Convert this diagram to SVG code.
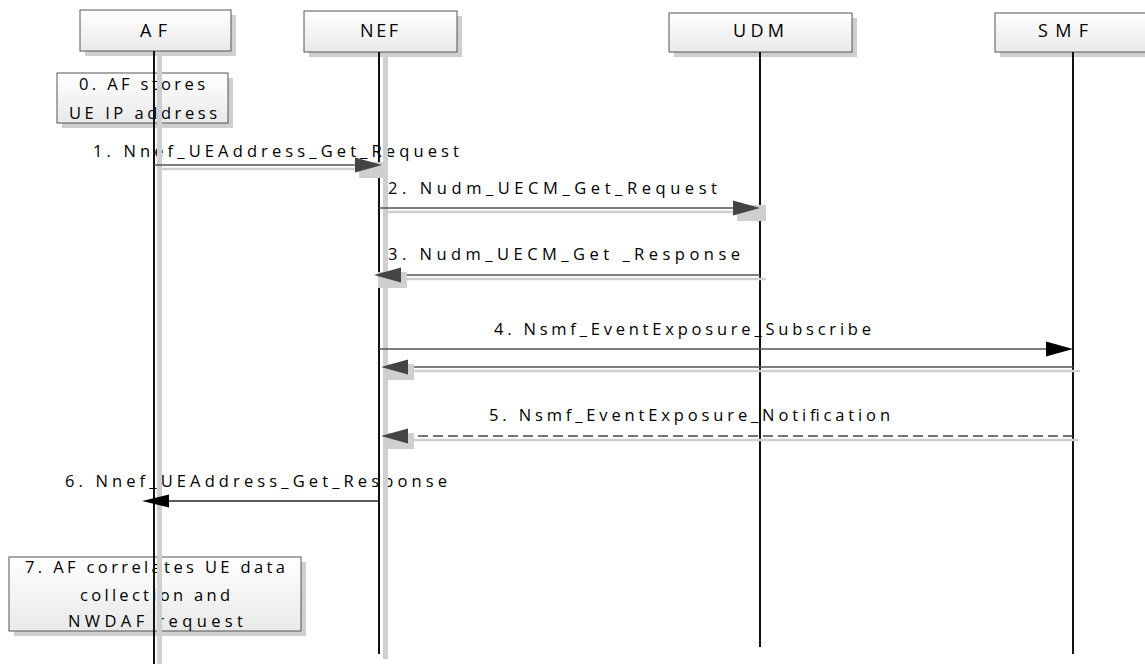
<svg xmlns="http://www.w3.org/2000/svg" xmlns:xlink="http://www.w3.org/1999/xlink" width="1145" height="664" viewBox="0 0 1145 664">
<style>
  text { font-family: "Open Sans", "Liberation Sans", Arial, sans-serif; font-size: 16.5px; fill: #000; }
  .title { font-size: 18px; }
  .box { fill: url(#boxGrad); stroke: #555; stroke-width: 1; }
  .shadow { fill: #cfcfcf; }
  .life { stroke: #111; stroke-width: 2; }
  .lifeShadow { stroke: #cfcfcf; stroke-width: 5; }
  .msg { stroke: #555; stroke-width: 1.5; fill: none; }
  .msgShadow { stroke: #cfcfcf; stroke-width: 2.5; fill: none; }
  .msgBlack { stroke: #222; stroke-width: 1.5; fill: none; }
  .dash { stroke-dasharray: 10 5; stroke: #444; }
  .head { fill: #444; }
  .headBlack { fill: #000; }
  .headShadow { fill: #cfcfcf; }
</style>
<defs>
  <linearGradient id="boxGrad" x1="0" y1="0" x2="0" y2="1">
    <stop offset="0" stop-color="#ffffff"/>
    <stop offset="1" stop-color="#e9e9e9"/>
  </linearGradient>
  <path id="headR" d="M0,0 L-27,-7.5 L-27,7.5 Z"/>
  <path id="headL" d="M0,0 L27,-7.5 L27,7.5 Z"/>
  <rect id="hsR" x="-23" y="-3" width="29" height="16"/>
  <rect id="hsL" x="4" y="-3" width="29" height="16"/>
</defs>

<!-- step boxes -->
<g id="step0">
  <rect class="shadow" x="62" y="78" width="171" height="50"/>
  <rect class="box" x="57" y="73" width="171" height="50"/>
  <text x="79" y="90" textLength="126" lengthAdjust="spacing">0. AF stores</text>
  <text x="69" y="119" textLength="148" lengthAdjust="spacing">UE IP address</text>
</g>
<g id="step7">
  <rect class="shadow" x="14" y="562" width="292" height="74"/>
  <rect class="box" x="9" y="557" width="292" height="74"/>
  <text x="25" y="573" textLength="260" lengthAdjust="spacing">7. AF correlates UE data</text>
  <text x="80" y="601" textLength="150" lengthAdjust="spacing">collection and</text>
  <text x="68" y="627" textLength="175" lengthAdjust="spacing">NWDAF request</text>
</g>

<!-- message labels -->
<g id="labels">
  <text x="93" y="157" textLength="366" lengthAdjust="spacing">1. Nnef_UEAddress_Get_Request</text>
  <text x="388" y="194" textLength="329" lengthAdjust="spacing">2. Nudm_UECM_Get_Request</text>
  <text x="388" y="260" textLength="352" lengthAdjust="spacing">3. Nudm_UECM_Get _Response</text>
  <text x="494" y="335" textLength="377" lengthAdjust="spacing">4. Nsmf_EventExposure_Subscribe</text>
  <text x="489" y="421" textLength="401" lengthAdjust="spacing">5. Nsmf_EventExposure_Notification</text>
  <text x="65" y="487" textLength="382" lengthAdjust="spacing">6. Nnef_UEAddress_Get_Response</text>
</g>

<!-- participants -->
<g id="AF">
  <rect class="shadow" x="85" y="15" width="151" height="41"/>
  <rect class="box" x="80" y="10" width="151" height="41"/>
  <text class="title" x="140" y="37" textLength="27" lengthAdjust="spacing">AF</text>
  <line class="lifeShadow" x1="159.5" y1="56" x2="159.5" y2="664"/>
  <line class="life" x1="154" y1="51" x2="154" y2="664"/>
</g>
<g id="NEF">
  <rect class="shadow" x="309" y="16" width="153" height="41"/>
  <rect class="box" x="304" y="11" width="153" height="41"/>
  <text class="title" x="360" y="37" textLength="38" lengthAdjust="spacing">NEF</text>
  <line class="lifeShadow" x1="385.5" y1="57" x2="385.5" y2="659"/>
  <line class="life" x1="379" y1="52" x2="379" y2="654"/>
</g>
<g id="UDM">
  <rect class="shadow" x="674" y="18" width="183" height="39"/>
  <rect class="box" x="669" y="13" width="183" height="39"/>
  <text class="title" x="733" y="37" textLength="51" lengthAdjust="spacing">UDM</text>
  <line class="life" x1="760" y1="52" x2="760" y2="647"/>
</g>
<g id="SMF">
  <rect class="shadow" x="1000" y="18" width="160" height="39"/>
  <rect class="box" x="995" y="13" width="160" height="39"/>
  <text class="title" x="1038" y="37" textLength="50" lengthAdjust="spacing">SMF</text>
  <line class="life" x1="1073" y1="52" x2="1073" y2="654"/>
</g>

<!-- connectors -->
<g id="connectors">
  <!-- 1 -->
  <line class="msgShadow" x1="159" y1="169" x2="360" y2="169"/>
  <line class="msg" x1="154" y1="165" x2="357" y2="165"/>
  <use href="#hsR" xlink:href="#hsR" class="headShadow" x="382" y="165"/>
  <use href="#headR" xlink:href="#headR" class="head" x="382" y="165"/>
  <!-- 2 -->
  <line class="msgShadow" x1="384" y1="212" x2="738" y2="212"/>
  <line class="msg" x1="379" y1="208" x2="735" y2="208"/>
  <use href="#hsR" xlink:href="#hsR" class="headShadow" x="760" y="208"/>
  <use href="#headR" xlink:href="#headR" class="head" x="760" y="208"/>
  <!-- 3 -->
  <line class="msgShadow" x1="766" y1="279" x2="404" y2="279"/>
  <line class="msg" x1="760" y1="275" x2="399" y2="275"/>
  <use href="#hsL" xlink:href="#hsL" class="headShadow" x="374" y="275"/>
  <use href="#headL" xlink:href="#headL" class="head" x="374" y="275"/>
  <!-- 4 -->
  <line class="msg" x1="379" y1="349" x2="1048" y2="349"/>
  <use href="#headR" xlink:href="#headR" class="headBlack" x="1073" y="349"/>
  <!-- 4 response -->
  <line class="msgShadow" x1="1080" y1="371" x2="410" y2="371"/>
  <line class="msg" x1="1073" y1="367" x2="406" y2="367"/>
  <use href="#hsL" xlink:href="#hsL" class="headShadow" x="381" y="367"/>
  <use href="#headL" xlink:href="#headL" class="head" x="381" y="367"/>
  <!-- 5 -->
  <line class="msgShadow" x1="1078" y1="440" x2="410" y2="440"/>
  <line class="msg dash" x1="1073" y1="436" x2="406" y2="436"/>
  <use href="#hsL" xlink:href="#hsL" class="headShadow" x="381" y="436"/>
  <use href="#headL" xlink:href="#headL" class="head" x="381" y="436"/>
  <!-- 6 -->
  <line class="msgBlack" x1="379" y1="501" x2="166" y2="501"/>
  <path class="headBlack" d="M142,501 L169,494.5 L169,507.5 Z"/>
</g>
</svg>
